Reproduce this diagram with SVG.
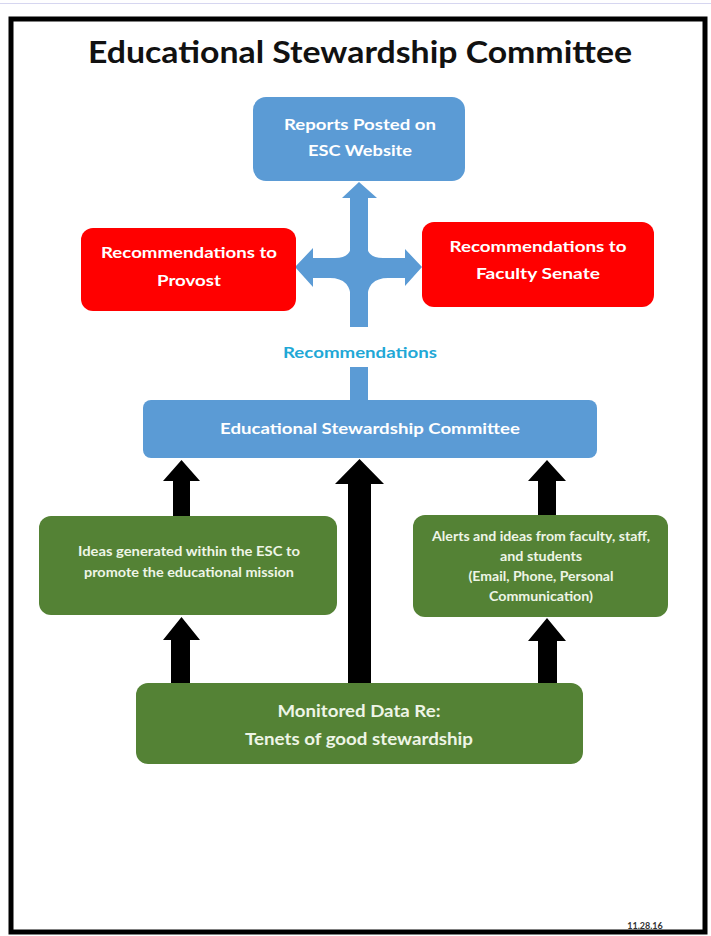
<svg xmlns="http://www.w3.org/2000/svg" width="711" height="936" viewBox="0 0 711 936">
<style>
  .t { font-family: Lato, "Open Sans", "Liberation Sans", sans-serif; font-weight: bold; text-anchor: middle; }
  .w { fill: #ffffff; }
  .g { fill: #EEF5E6; }
  .blue { fill: #5B9BD5; }
  .red { fill: #FF0000; }
  .green { fill: #548235; }
  .blk { fill: #000000; }
</style>
<rect x="0" y="0" width="711" height="936" fill="#ffffff"/>
<line x1="0" y1="3.5" x2="711" y2="3.5" stroke="#d6d6f0" stroke-width="1"/>
<rect x="11" y="19" width="694" height="913" fill="none" stroke="#000" stroke-width="5"/>
<text class="t" x="360" y="63" font-size="31" fill="#111" textLength="544" lengthAdjust="spacingAndGlyphs">Educational Stewardship Committee</text>

<g id="connectors">
  <path class="blue" d="M350,400 L350,367 L368,367 L368,400 Z"/>
  <path class="blue" d="M350,327 L350,198 L342,198 L359,182 L377,198 L368,198 L368,327 Z"/>
  <path class="blue" d="M351,300 Q351,278 330,278 L313,278 L313,287 L295,267 L313,248 L313,258 L335,258 Q351,258 351,245 Z"/>
  <path class="blue" d="M367,300 Q367,278 388,278 L405,278 L405,286 L422,267 L405,249 L405,258 L383,258 Q367,258 367,245 Z"/>
  <text class="t" x="360" y="358" font-size="16" fill="#1FA8D6" textLength="154" lengthAdjust="spacingAndGlyphs">Recommendations</text>
  <path class="blk" d="M173,516 L173,481 L163,481 L181.5,460 L200,481 L190,481 L190,516 Z"/>
  <path class="blk" d="M348,683 L348,484 L335,484 L359.5,459 L384,484 L371,484 L371,683 Z"/>
  <path class="blk" d="M538,515 L538,481 L528,481 L547,460 L566,481 L556,481 L556,515 Z"/>
  <path class="blk" d="M171,683 L171,640 L163,640 L181.5,617 L200,640 L190,640 L190,683 Z"/>
  <path class="blk" d="M538,683 L538,641 L528,641 L547,618 L566,641 L557,641 L557,683 Z"/>
</g>

<g id="reports">
  <rect class="blue" x="253" y="97" width="212" height="84" rx="13"/>
  <text class="t w" x="360" y="130" font-size="16" textLength="152" lengthAdjust="spacingAndGlyphs">Reports Posted on</text>
  <text class="t w" x="360" y="156" font-size="16" textLength="104" lengthAdjust="spacingAndGlyphs">ESC Website</text>
</g>

<g id="provost">
  <rect class="red" x="81" y="228" width="215" height="83" rx="12"/>
  <text class="t w" x="189" y="258" font-size="16" textLength="176" lengthAdjust="spacingAndGlyphs">Recommendations to</text>
  <text class="t w" x="189" y="286" font-size="16" textLength="64" lengthAdjust="spacingAndGlyphs">Provost</text>
</g>

<g id="senate">
  <rect class="red" x="422" y="222" width="232" height="85" rx="12"/>
  <text class="t w" x="538" y="252" font-size="16" textLength="177" lengthAdjust="spacingAndGlyphs">Recommendations to</text>
  <text class="t w" x="538" y="279" font-size="16" textLength="124" lengthAdjust="spacingAndGlyphs">Faculty Senate</text>
</g>

<g id="esc">
  <rect class="blue" x="143" y="400" width="454" height="58" rx="8"/>
  <text class="t w" x="370" y="434" font-size="16" textLength="300" lengthAdjust="spacingAndGlyphs">Educational Stewardship Committee</text>
</g>

<g id="ideas">
  <rect class="green" x="39" y="516" width="298" height="99" rx="12"/>
  <text class="t g" x="189" y="556" font-size="12.5" textLength="222" lengthAdjust="spacingAndGlyphs">Ideas generated within the ESC to</text>
  <text class="t g" x="189" y="577" font-size="12.5" textLength="210" lengthAdjust="spacingAndGlyphs">promote the educational mission</text>
</g>

<g id="alerts">
  <rect class="green" x="413" y="515" width="255" height="102" rx="12"/>
  <text class="t g" x="541" y="541" font-size="12.5" textLength="218" lengthAdjust="spacingAndGlyphs">Alerts and ideas from faculty, staff,</text>
  <text class="t g" x="541" y="561" font-size="12.5" textLength="82" lengthAdjust="spacingAndGlyphs">and students</text>
  <text class="t g" x="541" y="581" font-size="12.5" textLength="145" lengthAdjust="spacingAndGlyphs">(Email, Phone, Personal</text>
  <text class="t g" x="541" y="601" font-size="12.5" textLength="104" lengthAdjust="spacingAndGlyphs">Communication)</text>
</g>

<g id="monitored">
  <rect class="green" x="136" y="683" width="447" height="81" rx="12"/>
  <text class="t g" x="359" y="717" font-size="17" textLength="163" lengthAdjust="spacingAndGlyphs">Monitored Data Re:</text>
  <text class="t g" x="359" y="745" font-size="17" textLength="228" lengthAdjust="spacingAndGlyphs">Tenets of good stewardship</text>
</g>

<text class="t" x="645" y="929" font-size="9" fill="#333">11.28.16</text>
</svg>
